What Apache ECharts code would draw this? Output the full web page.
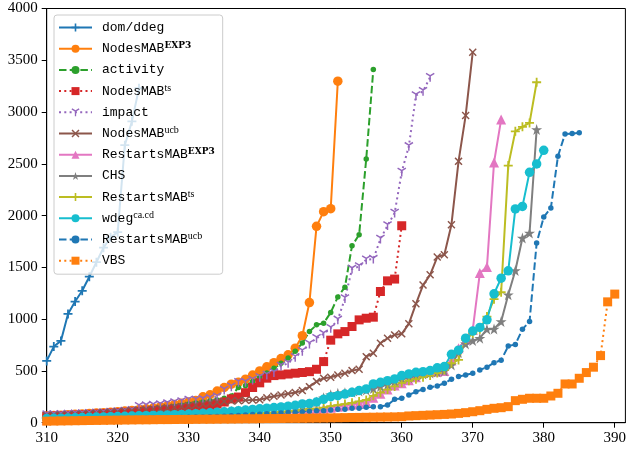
<!DOCTYPE html>
<html>
<head>
<meta charset="utf-8">
<script src="https://cdn.jsdelivr.net/npm/echarts@6/dist/echarts.min.js"></script>
<style>html,body{margin:0;padding:0;background:#fff}#c{width:629px;height:450px}</style>
</head>
<body>
<div id="c"></div>
<script>
// ---- data (x = number of instances solved, y = time) ----
const xTicks = [310, 320, 330, 340, 350, 360, 370, 380, 390];
const yTicks = [0, 500, 1000, 1500, 2000, 2500, 3000, 3500, 4000];
const seriesNames = ['dom/ddeg', 'NodesMAB^EXP3', 'activity', 'NodesMAB^ts', 'impact', 'NodesMAB^ucb',
  'RestartsMAB^EXP3', 'CHS', 'RestartsMAB^ts', 'wdeg^ca.cd', 'RestartsMAB^ucb', 'VBS'];
const firstX = 310;

const domDdeg = [597,735,790,1050,1170,1274,1410,1550,1690,1790,1840,2680,2910,3230];
const nodesExp3 = [65,69,73,77,81,85,89,93,97,101, 106,112,118,126,134,142,152,163,175,187,
  200,215,250,270,305,340,372,390,420,460, 500,540,580,620,655,720,840,1160,1896,2038, 2067,3298];
const activity = [60,63,66,69,72,76,80,84,88,93, 98,104,110,117,124,131,139,148,158,168,
  180,190,200,210,220,235,258,340,356,398, 440,480,525,575,625,690,770,880,945,961,
  1064,1215,1309,1709,1815,2547,3411];
const nodesTs = [62,64,67,70,73,76,80,84,88,92, 96,100,104,108,112,116,120,125,130,135,
  140,148,156,165,180,200,230,248,290,340, 385,430,455,462,470,478,485,493,516,590,
  797,858,880,929,993,1009,1019,1267,1370,1387,1902];
const impact = [78,80,82,84,86,89,92,95,99,103, 108,113,120,160,165,170,175,185,195,205,
  219,219,226,236,251,316,348,391,391,413, 439,461,484,548,574,632,690,761,816,858,
  913,993,1200,1484,1509,1574,1580,1774,1905,2025, 2422,2669,3160,3201,3337];
const nodesUcb = [68,71,74,77,80,83,87,91,95,100, 105,110,115,120,126,132,138,144,150,157,
  165,172,180,190,200,205,210,213,216,219, 222,240,255,268,280,292,310,348,397,429,
  439,461,478,503,516,638,671,768,816,848, 858,955,1148,1329,1428,1600,1622,1912,2524,2966,3578];
const restartsExp3 = [28,29,30,31,32,33,34,35,36,38, 40,42,44,46,48,50,52,54,56,58,
  60,62,64,66,68,70,73,76,79,82, 85,88,92,96,100,105,110,118,126,135,
  145,155,165,175,188,200,240,280,320,360, 380,410,440,480,490,493,500,600,720,800,
  896,1445,1503,2514,2927];
const chs = [36,38,40,42,44,46,48,50,52,54, 56,58,61,64,67,70,73,76,79,83,
  87,91,95,99,103,107,111,115,119,123, 127,133,139,146,153,162,170,180,200,240,
  270,284,290,295,305,315,330,350,370,400, 420,435,450,470,480,490,500,558,677,761,
  793,816,903,905,977,1235,1470,1783,1832,2831];
const restartsTs = [30,31,32,33,34,35,36,38,40,42, 44,46,48,50,52,54,56,58,60,62,
  64,66,68,70,72,75,78,81,84,87, 90,94,98,103,108,115,123,130,136,145,
  160,170,180,192,205,219,260,290,320,350, 385,405,420,440,455,480,510,574,606,800,
  864,903,1025,1193,1260,2483,2814,2857,2895,3288];
const wdeg = [40,42,44,46,48,50,52,54,56,58, 60,62,64,66,68,70,72,74,77,80,
  83,87,91,95,100,105,110,116,122,128, 134,140,146,152,160,168,181,185,200,226,
  251,261,277,293,310,326,374,390,406,423, 455,471,487,493,503,530,542,660,700,816,
  885,920,993,1245,1396,1467,2064,2089,2418,2499,2630];
const restartsUcb = [25,26,27,28,29,30,31,32,33,34, 35,36,37,38,40,42,44,46,48,50,
  52,54,56,58,60,63,66,70,74,78, 82,86,90,94,98,102,106,110,116,116,
  123,129,129,139,139,149,155,155,171,226, 236,268,300,320,342,355,381,420,445,461,
  478,510,536,580,603,740,755,903,977,1735, 1986,2073,2573,2789,2792,2799];
const vbs = [15,16,17,18,19,20,21,22,23,24, 25,26,27,28,28,29,30,30,31,32,
  32,33,34,34,35,36,36,37,38,38, 39,40,40,41,42,42,43,44,45,46,
  47,48,49,50,51,52,53,54,55,56, 58,65,68,71,74,77,80,84,90,97,
  106,116,129,139,145,155,213,226,236,236, 236,258,284,374,374,429,484,536,648,1167,1242];

const allValues = [domDdeg, nodesExp3, activity, nodesTs, impact, nodesUcb,
  restartsExp3, chs, restartsTs, wdeg, restartsUcb, vbs];

// ---- styling ----
const colors = ['#1f77b4','#ff7f0e','#2ca02c','#d62728','#9467bd','#8c564b',
  '#e377c2','#7f7f7f','#bcbd22','#17becf','#1f77b4','#ff7f0e'];
const PLUS = 'path://M4,0H6V4H10V6H6V10H4V6H0V4H4Z';
const XMARK = 'path://M1.3,0L5,3.7L8.7,0L10,1.3L6.3,5L10,8.7L8.7,10L5,6.3L1.3,10L0,8.7L3.7,5L0,1.3Z';
const STAR = 'path://M5,0L6.123,3.455L9.755,3.455L6.816,5.59L7.939,9.045L5,6.91L2.061,9.045L3.184,5.59L0.245,3.455L3.877,3.455Z';
const TRI = 'path://M4.2,10H5.8V4.6L9.9,2.3L9.1,1L5,3.3L0.9,1L0.1,2.3L4.2,4.6Z';
const symbols = [PLUS,'circle','circle','rect',TRI,XMARK,'triangle',STAR,PLUS,'circle','circle','rect'];
const symSizes = [9,9.5,5.5,9,9,8,10,11,9,9.5,5.5,9];
const dashes = ['solid','solid',[7.5,3.2],[2,3.3],[2,3.3],'solid','solid','solid','solid','solid',[7.5,3.2],[2,3.3]];

const series = allValues.map((vals, i) => ({
  name: seriesNames[i],
  type: 'line',
  data: vals.map((v, k) => [firstX + k, v]),
  symbol: symbols[i],
  symbolSize: symSizes[i],
  showSymbol: true,
  color: colors[i],
  itemStyle: { color: colors[i] },
  lineStyle: { color: colors[i], width: 2, type: dashes[i], cap: 'butt' },
  emphasis: { disabled: true },
  animation: false
}));

const chart = echarts.init(document.getElementById('c'), null, { renderer: 'canvas' });
chart.setOption({
  backgroundColor: '#fff',
  animation: false,
  grid: { left: 46.7, right: 1, top: 8.5, bottom: 27.3, show: true, borderColor: '#000', borderWidth: 1, backgroundColor: 'transparent' },
  legend: {
    data: seriesNames,
    orient: 'vertical',
    left: 54, top: 15,
    padding: [4.5, 8, 5.5, 4],
    itemWidth: 33, itemHeight: 10, itemGap: 5.2,
    backgroundColor: 'rgba(255,255,255,0.8)',
    borderColor: '#cccccc', borderWidth: 1, borderRadius: 3,
    selectedMode: false,
    formatter: function (name) {
      const parts = name.split('^');
      if (parts.length === 1) return '{m|' + parts[0] + '}';
      const sup = parts[1];
      return '{m|' + parts[0] + '}' + (sup === 'EXP3' ? '{sb|' + sup + '}' : '{s|' + sup + '}');
    },
    textStyle: {
      padding: [0, 0, 0, 5],
      lineHeight: 16,
      rich: {
        m: { fontFamily: 'Liberation Mono', fontSize: 13, lineHeight: 16, color: '#000' },
        sb: { fontFamily: 'DejaVu Serif', fontWeight: 'bold', fontSize: 9, lineHeight: 8, verticalAlign: 'top', color: '#000' },
        s: { fontFamily: 'Liberation Serif', fontSize: 10, lineHeight: 8, verticalAlign: 'top', color: '#000' }
      }
    }
  },
  xAxis: {
    type: 'value', min: 310, max: 391.5, interval: 10,
    axisLine: { show: true, onZero: false, lineStyle: { color: '#000', width: 1 } },
    axisTick: { show: true, length: 5, lineStyle: { color: '#000', width: 1 }, customValues: xTicks },
    axisLabel: { customValues: xTicks, margin: 8, fontFamily: 'Liberation Serif', fontSize: 15, color: '#000',
      formatter: v => (Math.abs(v % 10) < 1e-6 ? String(v) : '') },
    splitLine: { show: false }
  },
  yAxis: {
    type: 'value', min: 0, max: 4000, interval: 500,
    axisLine: { show: true, onZero: false, lineStyle: { color: '#000', width: 1 } },
    axisTick: { show: true, length: 5, lineStyle: { color: '#000', width: 1 }, customValues: yTicks },
    axisLabel: { customValues: yTicks, margin: 9, fontFamily: 'Liberation Serif', fontSize: 15, color: '#000',
      formatter: v => String(v) },
    splitLine: { show: false }
  },
  series: series
});
</script>
</body>
</html>
